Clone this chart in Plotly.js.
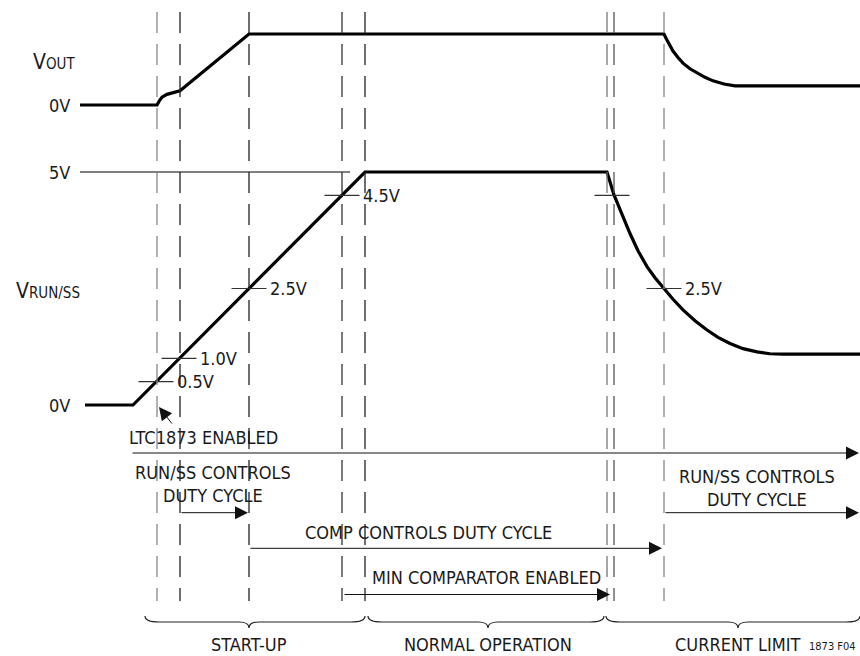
<!DOCTYPE html>
<html>
<head>
<meta charset="utf-8">
<script src="https://cdn.plot.ly/plotly-3.0.1.min.js"></script>
<style>
html,body{margin:0;padding:0;background:#fff;}
#chart{width:860px;height:656px;}
</style>
</head>
<body>
<div id="chart"></div>
<script>
// ---- data (time in diagram units, voltages in V; VOUT normalized 0..1) ----
const eventTimes   = [157, 180, 249, 342, 365, 607, 614, 664];
const eventColors  = ['#888', '#222', '#222', '#333', '#222', '#777', '#555', '#888'];

const voutT = [80, 157, 159, 162, 167, 173, 180, 249, 664, 666, 669, 673, 678, 683, 690, 697, 705, 713, 724, 735, 860];
const voutV = [0, 0, 0.05, 0.11, 0.15, 0.175, 0.2, 1, 1, 0.94, 0.86, 0.76, 0.67, 0.59, 0.51, 0.45, 0.39, 0.34, 0.295, 0.27, 0.27];

const runT = [85, 133, 365, 607, 614, 622, 630, 638, 647, 655, 663, 673, 683, 695, 707, 718, 730, 743, 757, 770, 783, 860];
const runV = [0, 0, 5, 5, 4.51, 4.08, 3.68, 3.31, 2.97, 2.73, 2.52, 2.27, 2.04, 1.81, 1.61, 1.45, 1.32, 1.21, 1.14, 1.10, 1.09, 1.09];

const refLineT = [80, 350];
const refLineV = [5, 5];

const crossT      = [156, 179, 249, 342, 612, 664];
const crossV      = [0.5, 1.0, 2.5, 4.5, 4.5, 2.5];
const crossLabels = ['0.5V', '1.0V', '2.5V', '4.5V', '', '2.5V'];

const levelLabels = ['0V', '5V'];
const levelValues = [0, 5];

const phaseNames  = ['START-UP', 'NORMAL OPERATION', 'CURRENT LIMIT'];
const phaseStart  = [145, 368, 606];
const phaseEnd    = [365, 604, 860];
const phaseMid    = [249, 488, 738];

const FONT = '"DejaVu Sans Condensed", "Liberation Sans Narrow", sans-serif';
const TXT = '#1a1a1a';

// ---- traces ----
const traces = [
  {x: voutT, y: voutV, yaxis: 'y3', mode: 'lines', line: {color: '#000', width: 3.2}, hoverinfo: 'skip'},
  {x: refLineT, y: refLineV, yaxis: 'y2', mode: 'lines', line: {color: '#000', width: 1}, hoverinfo: 'skip'},
  {x: runT, y: runV, yaxis: 'y2', mode: 'lines', line: {color: '#000', width: 3.2}, hoverinfo: 'skip'},
  {x: crossT, y: crossV, yaxis: 'y2', mode: 'markers',
   marker: {symbol: 'line-ew', size: 25, color: '#333', line: {color: '#333', width: 1.2}}, hoverinfo: 'skip'}
];

// ---- shapes ----
const shapes = [];
eventTimes.forEach((t, i) => {
  shapes.push({type: 'line', xref: 'x', yref: 'y', x0: t, x1: t, y0: 12, y1: 601,
    line: {color: eventColors[i], width: 1.3, dash: '21px,11px'}});
});
// braces
phaseNames.forEach((n, i) => {
  const a = phaseStart[i], b = phaseEnd[i], c = phaseMid[i];
  const top = 616, mid = 622, tip = 628;
  const p = `M ${a},${top} Q ${a},${mid} ${a + 14},${mid} L ${c - 10},${mid} Q ${c},${mid} ${c},${tip} ` +
            `Q ${c},${mid} ${c + 10},${mid} L ${b - 14},${mid} Q ${b},${mid} ${b},${top}`;
  shapes.push({type: 'path', xref: 'x', yref: 'y', path: p, line: {color: '#222', width: 1.2}});
});

// ---- annotations ----
const ann = [];
function txt(x, y, text, opts) {
  ann.push(Object.assign({x: x, y: y, xref: 'x', yref: 'y', text: text, showarrow: false,
    font: {family: FONT, size: 18, color: TXT}, xanchor: 'center', yanchor: 'middle'}, opts || {}));
}
function arrow(x0, y0, x1, y1) {
  ann.push({x: x1, y: y1, ax: x0, ay: y0, xref: 'x', yref: 'y', axref: 'x', ayref: 'y', text: '',
    showarrow: true, arrowhead: 2, arrowsize: 2.6, arrowwidth: 1, arrowcolor: '#111', standoff: 0, startstandoff: 0});
}

// left labels
txt(54, 62, 'V<span style="font-size:15px">OUT</span>', {font: {family: FONT, size: 21, color: TXT}});
txt(72, 105, levelLabels[0], {xanchor: 'right'});
levelValues.forEach((v, i) => {
  ann.push({x: 72, y: v, xref: 'x', yref: 'y2', text: levelLabels[i], showarrow: false,
    xanchor: 'right', yanchor: 'middle', font: {family: FONT, size: 18, color: TXT}});
});
txt(48, 291, 'V<span style="font-size:15px">RUN/SS</span>', {font: {family: FONT, size: 21, color: TXT}});

// crossing labels
crossT.forEach((t, i) => {
  if (!crossLabels[i]) return;
  ann.push({x: t + 19, y: crossV[i], xref: 'x', yref: 'y2', text: crossLabels[i], showarrow: false,
    xanchor: 'left', yanchor: 'middle', font: {family: FONT, size: 18, color: TXT}});
});

// lower section
txt(203, 437, 'LTC1873 ENABLED');
arrow(173, 425, 159, 407);
arrow(131, 453, 859, 453);
txt(213, 484, 'RUN/SS CONTROLS<br>DUTY CYCLE');
arrow(180, 512.7, 248, 512.7);
txt(757, 488, 'RUN/SS CONTROLS<br>DUTY CYCLE');
arrow(664, 512.7, 859, 512.7);
txt(428, 532, 'COMP CONTROLS DUTY CYCLE');
arrow(249, 548.3, 662, 548.3);
txt(486, 577, 'MIN COMPARATOR ENABLED');
arrow(343, 594.5, 610, 594.5);

phaseNames.forEach((n, i) => txt(phaseMid[i], 644.5, n));
txt(858, 646, '1873 F04', {xanchor: 'right', font: {family: FONT, size: 11, color: TXT}});

// ---- layout ----
const hidden = {visible: false, showgrid: false, zeroline: false, fixedrange: true};
const layout = {
  width: 860, height: 656,
  margin: {l: 0, r: 0, t: 0, b: 0, pad: 0},
  paper_bgcolor: '#fff', plot_bgcolor: '#fff',
  showlegend: false,
  xaxis: Object.assign({range: [0, 860]}, hidden),
  yaxis: Object.assign({range: [656, 0]}, hidden),
  yaxis2: Object.assign({range: [-5.386, 8.691], overlaying: 'y'}, hidden),
  yaxis3: Object.assign({range: [-7.761, 1.479], overlaying: 'y'}, hidden),
  shapes: shapes,
  annotations: ann
};

Plotly.newPlot('chart', traces, layout, {displayModeBar: false, staticPlot: true});
</script>
</body>
</html>
